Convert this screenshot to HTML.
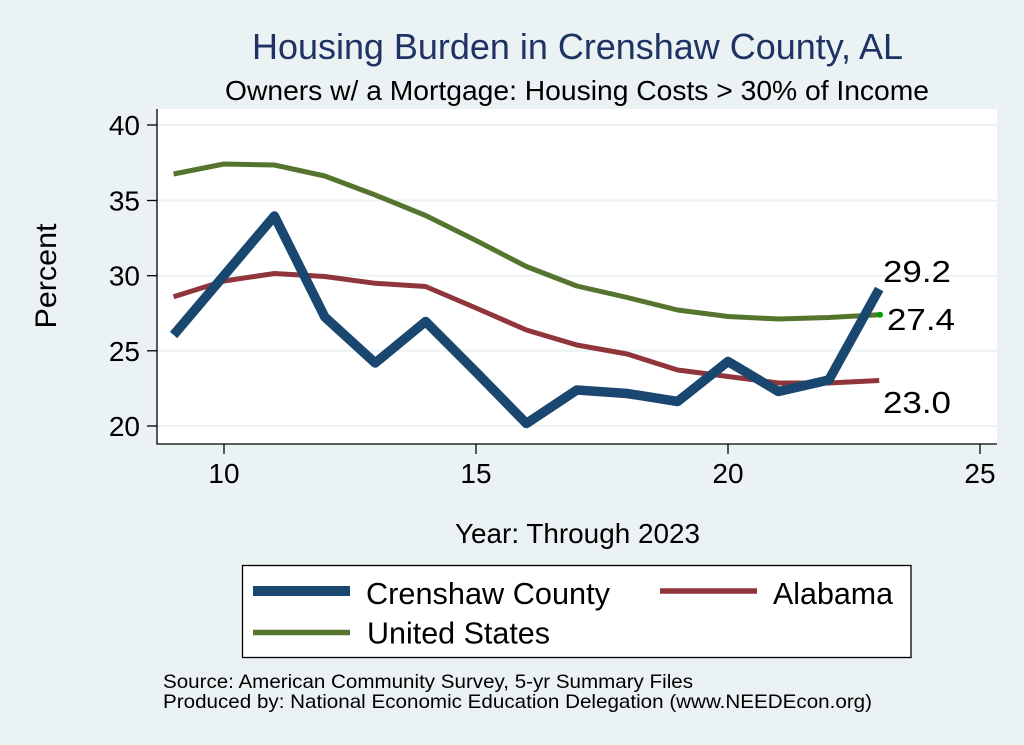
<!DOCTYPE html>
<html>
<head>
<meta charset="utf-8">
<style>
  html,body{margin:0;padding:0;background:#eaf2f3;}
  svg{display:block;}
  text{font-family:"Liberation Sans", Arial, sans-serif;}
</style>
</head>
<body>
<svg width="1024" height="745" viewBox="0 0 1024 745" xmlns="http://www.w3.org/2000/svg">
  <rect x="0" y="0" width="1024" height="745" fill="#eaf2f3"/>
  <!-- plot region -->
  <rect x="157" y="109" width="840" height="335" fill="#ffffff"/>
  <!-- gridlines -->
  <g stroke="#eaf2f3" stroke-width="2">
    <line x1="157" y1="125" x2="997" y2="125"/>
    <line x1="157" y1="200.5" x2="997" y2="200.5"/>
    <line x1="157" y1="275.7" x2="997" y2="275.7"/>
    <line x1="157" y1="350.8" x2="997" y2="350.8"/>
    <line x1="157" y1="426" x2="997" y2="426"/>
  </g>
  <!-- axes -->
  <g stroke="#000" stroke-width="1.3">
    <line x1="157" y1="109" x2="157" y2="444.5"/>
    <line x1="156.5" y1="444" x2="997" y2="444"/>
    <line x1="147" y1="125" x2="157" y2="125"/>
    <line x1="147" y1="200.5" x2="157" y2="200.5"/>
    <line x1="147" y1="275.7" x2="157" y2="275.7"/>
    <line x1="147" y1="350.8" x2="157" y2="350.8"/>
    <line x1="147" y1="426" x2="157" y2="426"/>
    <line x1="224" y1="444" x2="224" y2="454"/>
    <line x1="476" y1="444" x2="476" y2="454"/>
    <line x1="728" y1="444" x2="728" y2="454"/>
    <line x1="980" y1="444" x2="980" y2="454"/>
  </g>
  <!-- y tick labels -->
  <g font-size="28" fill="#000" text-anchor="end">
    <text x="140" y="135">40</text>
    <text x="140" y="210.5">35</text>
    <text x="140" y="285.7">30</text>
    <text x="140" y="360.8">25</text>
    <text x="140" y="436">20</text>
  </g>
  <!-- x tick labels -->
  <g font-size="28" fill="#000" text-anchor="middle">
    <text x="224" y="483">10</text>
    <text x="476" y="483">15</text>
    <text x="728" y="483">20</text>
    <text x="980" y="483">25</text>
  </g>
  <!-- axis titles -->
  <text x="56" y="276" font-size="30" text-anchor="middle" transform="rotate(-90 56 276)" textLength="105" lengthAdjust="spacingAndGlyphs">Percent</text>
  <text x="455" y="543" font-size="28" textLength="245" lengthAdjust="spacingAndGlyphs">Year: Through 2023</text>
  <!-- titles -->
  <text x="252" y="59" font-size="36" fill="#1e3264" textLength="651" lengthAdjust="spacingAndGlyphs">Housing Burden in Crenshaw County, AL</text>
  <text x="225" y="100" font-size="28" fill="#000" textLength="704" lengthAdjust="spacingAndGlyphs">Owners w/ a Mortgage: Housing Costs &gt; 30% of Income</text>

  <!-- series -->
  <polyline fill="none" stroke="#55752f" stroke-width="5" stroke-linejoin="round"
    points="173.6,174 224,164 274.4,165 324.8,176 375.2,195 425.6,215.5 476,240.5 526.4,266.5 576.8,286 627.2,297.5 677.6,310 728,316.5 778.4,319 828.8,317.5 879.2,314.8"/>
  <polyline fill="none" stroke="#90353b" stroke-width="5" stroke-linejoin="round"
    points="173.6,296.7 224,281 274.4,273.5 324.8,276.5 375.2,283.3 425.6,286.5 476,308 526.4,330 576.8,345 627.2,354 677.6,370 728,376.5 778.4,383 828.8,383 879.2,380.5"/>
  <polyline fill="none" stroke="#1a476f" stroke-width="9.5" stroke-linejoin="round"
    points="173.6,335 224,275.5 274.4,216 324.8,317 375.2,363 425.6,321.5 476,372 526.4,423.5 576.8,390 627.2,393.5 677.6,401.5 728,361.5 778.4,391.5 828.8,380 879.2,289"/>
  <circle cx="880" cy="314.8" r="3" fill="#00a000"/>

  <!-- end labels -->
  <g font-size="31" fill="#000">
    <text x="883" y="282" textLength="68" lengthAdjust="spacingAndGlyphs">29.2</text>
    <text x="887" y="330" textLength="68" lengthAdjust="spacingAndGlyphs">27.4</text>
    <text x="883" y="413" textLength="68" lengthAdjust="spacingAndGlyphs">23.0</text>
  </g>

  <!-- legend -->
  <rect x="242.5" y="565.5" width="668.5" height="92" fill="#ffffff" stroke="#000" stroke-width="1.3"/>
  <line x1="253" y1="591" x2="350" y2="591" stroke="#1a476f" stroke-width="10"/>
  <line x1="660" y1="591" x2="757" y2="591" stroke="#90353b" stroke-width="5.5"/>
  <line x1="253" y1="632.5" x2="350" y2="632.5" stroke="#55752f" stroke-width="5.5"/>
  <g font-size="30.5" fill="#000">
    <text x="366" y="604" textLength="244" lengthAdjust="spacingAndGlyphs">Crenshaw County</text>
    <text x="773" y="604" textLength="120" lengthAdjust="spacingAndGlyphs">Alabama</text>
    <text x="367" y="643.5" textLength="183" lengthAdjust="spacingAndGlyphs">United States</text>
  </g>

  <!-- notes -->
  <g font-size="19.5" fill="#000">
    <text x="163" y="688" textLength="530" lengthAdjust="spacingAndGlyphs">Source: American Community Survey, 5-yr Summary Files</text>
    <text x="163" y="708" textLength="709" lengthAdjust="spacingAndGlyphs">Produced by: National Economic Education Delegation (www.NEEDEcon.org)</text>
  </g>
</svg>
</body>
</html>
